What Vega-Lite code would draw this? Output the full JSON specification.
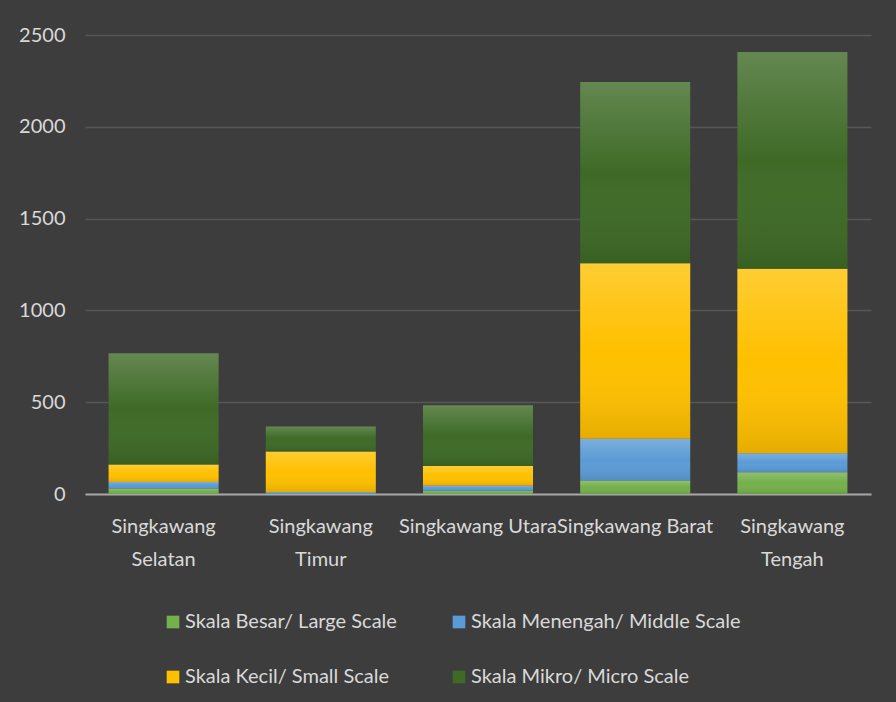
{
  "$schema": "https://vega.github.io/schema/vega-lite/v6.json",
  "width": 786,
  "height": 459,
  "autosize": "none",
  "padding": {"left": 85, "top": 35, "right": 25, "bottom": 208},
  "background": "#3d3d3d",
  "config": {"view": {"stroke": null}, "font": "Lato"},
  "data": {
    "values": [
      {"kecamatan": "Singkawang Selatan", "skala": "Skala Besar/ Large Scale", "urut": 1, "nilai": 30},
      {"kecamatan": "Singkawang Selatan", "skala": "Skala Menengah/ Middle Scale", "urut": 2, "nilai": 36},
      {"kecamatan": "Singkawang Selatan", "skala": "Skala Kecil/ Small Scale", "urut": 3, "nilai": 94},
      {"kecamatan": "Singkawang Selatan", "skala": "Skala Mikro/ Micro Scale", "urut": 4, "nilai": 606},
      {"kecamatan": "Singkawang Timur", "skala": "Skala Besar/ Large Scale", "urut": 1, "nilai": 3},
      {"kecamatan": "Singkawang Timur", "skala": "Skala Menengah/ Middle Scale", "urut": 2, "nilai": 8},
      {"kecamatan": "Singkawang Timur", "skala": "Skala Kecil/ Small Scale", "urut": 3, "nilai": 221},
      {"kecamatan": "Singkawang Timur", "skala": "Skala Mikro/ Micro Scale", "urut": 4, "nilai": 136},
      {"kecamatan": "Singkawang Utara", "skala": "Skala Besar/ Large Scale", "urut": 1, "nilai": 18},
      {"kecamatan": "Singkawang Utara", "skala": "Skala Menengah/ Middle Scale", "urut": 2, "nilai": 27},
      {"kecamatan": "Singkawang Utara", "skala": "Skala Kecil/ Small Scale", "urut": 3, "nilai": 107},
      {"kecamatan": "Singkawang Utara", "skala": "Skala Mikro/ Micro Scale", "urut": 4, "nilai": 331},
      {"kecamatan": "Singkawang Barat", "skala": "Skala Besar/ Large Scale", "urut": 1, "nilai": 73},
      {"kecamatan": "Singkawang Barat", "skala": "Skala Menengah/ Middle Scale", "urut": 2, "nilai": 228},
      {"kecamatan": "Singkawang Barat", "skala": "Skala Kecil/ Small Scale", "urut": 3, "nilai": 956},
      {"kecamatan": "Singkawang Barat", "skala": "Skala Mikro/ Micro Scale", "urut": 4, "nilai": 987},
      {"kecamatan": "Singkawang Tengah", "skala": "Skala Besar/ Large Scale", "urut": 1, "nilai": 119},
      {"kecamatan": "Singkawang Tengah", "skala": "Skala Menengah/ Middle Scale", "urut": 2, "nilai": 103},
      {"kecamatan": "Singkawang Tengah", "skala": "Skala Kecil/ Small Scale", "urut": 3, "nilai": 1005},
      {"kecamatan": "Singkawang Tengah", "skala": "Skala Mikro/ Micro Scale", "urut": 4, "nilai": 1180}
    ]
  },
  "encoding": {
    "x": {
      "field": "kecamatan",
      "type": "nominal",
      "sort": ["Singkawang Selatan", "Singkawang Timur", "Singkawang Utara", "Singkawang Barat", "Singkawang Tengah"],
      "scale": {"paddingInner": 0.3, "paddingOuter": 0.15},
      "axis": {
        "title": null,
        "labelAngle": 0,
        "labelFontSize": 20,
        "labelColor": "#d9d9d9",
        "labelPadding": 22,
        "labelLineHeight": 33,
        "labelLimit": 0,
        "ticks": false,
        "domainColor": "#a6a6a6",
        "domainWidth": 2,
        "labelExpr": "(indexof(datum.value, 'Utara') >= 0 || indexof(datum.value, 'Barat') >= 0) ? datum.value : split(datum.value, ' ')"
      }
    },
    "y": {
      "field": "nilai",
      "type": "quantitative",
      "stack": "zero",
      "scale": {"domain": [0, 2500], "nice": false},
      "axis": {
        "title": null,
        "values": [0, 500, 1000, 1500, 2000, 2500],
        "format": "d",
        "labelFontSize": 20,
        "labelColor": "#d9d9d9",
        "labelPadding": 20,
        "ticks": false,
        "domain": false,
        "gridColor": "#575757",
        "gridWidth": 1.5
      }
    },
    "order": {"field": "urut", "type": "quantitative", "sort": "ascending"}
  },
  "layer": [
    {
      "mark": {"type": "bar"},
      "encoding": {
        "color": {
          "field": "skala",
          "type": "nominal",
          "sort": ["Skala Besar/ Large Scale", "Skala Menengah/ Middle Scale", "Skala Kecil/ Small Scale", "Skala Mikro/ Micro Scale"],
          "scale": {
            "domain": ["Skala Besar/ Large Scale", "Skala Menengah/ Middle Scale", "Skala Kecil/ Small Scale", "Skala Mikro/ Micro Scale"],
            "range": ["#74b04b", "#5b9bd5", "#ffc000", "#3e6a26"]
          },
          "legend": {
            "title": null,
            "orient": "none",
            "legendX": 78,
            "legendY": 577,
            "columns": 2,
            "direction": "horizontal",
            "columnPadding": 52,
            "rowPadding": 35,
            "symbolType": "square",
            "symbolSize": 160,
            "symbolStrokeWidth": 0,
            "labelFontSize": 20,
            "labelColor": "#d9d9d9",
            "labelOffset": 2,
            "labelLimit": 0
          }
        }
      }
    },
    {
      "mark": {
        "type": "bar",
        "fill": {
          "gradient": "linear",
          "x1": 0, "y1": 0, "x2": 0, "y2": 1,
          "stops": [
            {"offset": 0, "color": "rgba(255,255,255,0.2)"},
            {"offset": 0.5, "color": "rgba(255,255,255,0)"},
            {"offset": 1, "color": "rgba(0,0,0,0.1)"}
          ]
        }
      },
      "encoding": {
        "detail": {"field": "skala", "type": "nominal"}
      }
    }
  ]
}
